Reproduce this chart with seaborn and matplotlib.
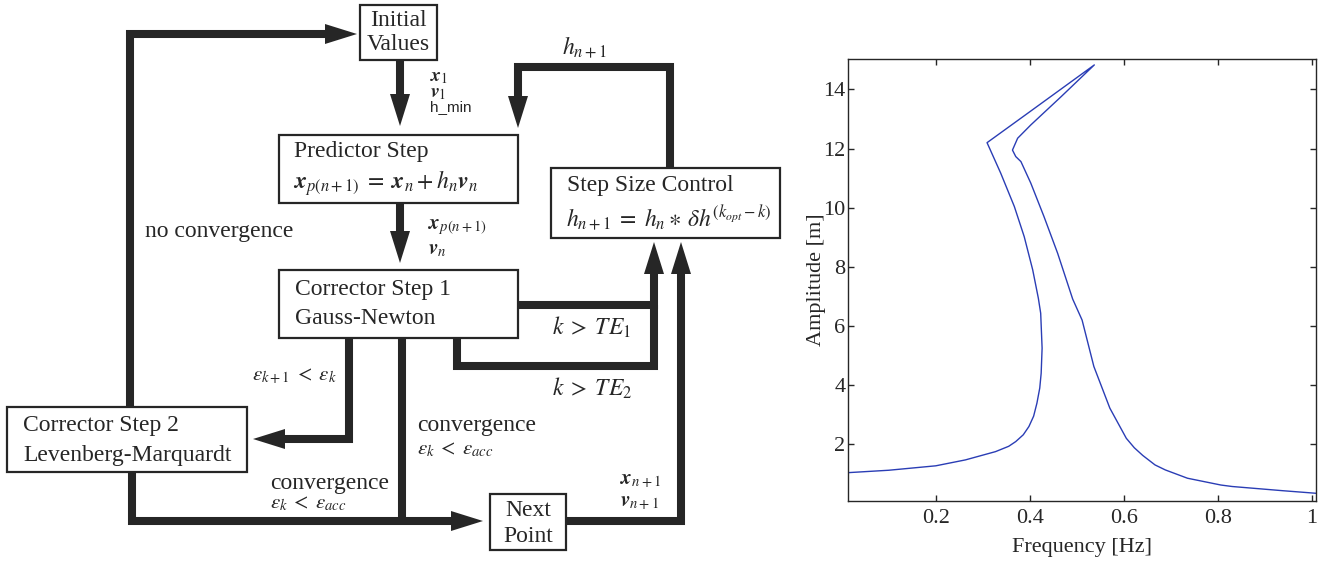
import numpy as np
import matplotlib
matplotlib.use("Agg")
import matplotlib.pyplot as plt
from matplotlib.patches import Rectangle, Polygon
import seaborn as sns

# response curve, in drawing order
# (lower-left branch up, over the tip, back down the right branch)
frequency = [0.015, 0.100, 0.200, 0.263, 0.327, 0.355, 0.370, 0.386, 0.398,
             0.408, 0.415, 0.421, 0.424, 0.426, 0.423, 0.418, 0.406, 0.388,
             0.367, 0.338, 0.309,
             0.395, 0.537,
             0.466, 0.402, 0.374, 0.363, 0.370, 0.381, 0.402, 0.430, 0.459,
             0.491, 0.511, 0.536, 0.570, 0.605, 0.622, 0.640, 0.666, 0.688,
             0.735, 0.806, 0.830, 0.936, 1.009]
amplitude = [1.04, 1.12, 1.27, 1.47, 1.75, 1.93, 2.09, 2.32, 2.60,
             2.95, 3.39, 3.90, 4.40, 5.25, 6.43, 6.94, 7.90, 9.02,
             10.04, 11.17, 12.20,
             13.19, 14.83,
             13.75, 12.80, 12.35, 11.95, 11.73, 11.56, 10.83, 9.70, 8.46,
             6.91, 6.20, 4.63, 3.22, 2.20, 1.88, 1.62, 1.30, 1.13,
             0.85, 0.62, 0.57, 0.43, 0.34]

x_ticks = [0.2, 0.4, 0.6, 0.8, 1.0]
x_tick_labels = ["0.2", "0.4", "0.6", "0.8", "1"]
y_ticks = [2, 4, 6, 8, 10, 12, 14]

sns.set_theme(style="ticks")
plt.rcParams["font.family"] = ["Liberation Serif", "DejaVu Serif"]
plt.rcParams["mathtext.fontset"] = "stix"

INK = "#262626"
LW = 5.8     # thick flow lines, ~8 px
HL, HW = 32, 20   # arrow head length / width in px


def flow(ax, pts, head=True):
    pts = [np.array(p, float) for p in pts]
    if head:
        d = pts[-1] - pts[-2]
        d /= np.hypot(*d)
        n = np.array([-d[1], d[0]])
        base = pts[-1] - d * HL
        ax.add_patch(Polygon([pts[-1], base + n * HW / 2, base - n * HW / 2],
                             closed=True, color=INK, lw=0, zorder=3))
        pts[-1] = base + d * 2
    xs = [p[0] for p in pts]
    ys = [p[1] for p in pts]
    ax.plot(xs, ys, color=INK, lw=LW, solid_joinstyle="miter",
            solid_capstyle="butt", zorder=2)


def box(ax, l, t, r, b):
    ax.add_patch(Rectangle((l, t), r - l, b - t, fill=False, ec=INK, lw=1.6, zorder=4))


fig = plt.figure(figsize=(13.33, 5.63), dpi=100)

# ---- flowchart (pixel coordinates) ----
fc = fig.add_axes([0, 0, 1, 1])
fc.set_xlim(0, 1333)
fc.set_ylim(563, 0)
fc.axis("off")

box(fc, 360, 5, 437, 60)
box(fc, 279, 135, 518, 203)
box(fc, 551, 168, 780, 238)
box(fc, 279, 270, 518, 338)
box(fc, 7, 407, 247, 472)
box(fc, 490, 494, 566, 550)

flow(fc, [(130, 408), (130, 34), (357, 34)])
flow(fc, [(400, 60), (400, 126)])
flow(fc, [(400, 203), (400, 263)])
flow(fc, [(670, 168), (670, 67), (518, 67), (518, 128)])
flow(fc, [(518, 305), (654, 305), (654, 242)])
flow(fc, [(457, 338), (457, 366), (654, 366), (654, 305)], head=False)
flow(fc, [(566, 521), (681, 521), (681, 242)])
flow(fc, [(349, 338), (349, 439), (253, 439)])
flow(fc, [(402, 338), (402, 521)], head=False)
flow(fc, [(132, 472), (132, 521), (483, 521)])

big = 17
small = 15
kw = dict(color=INK, va="center")
fc.text(398, 20, "Initial", fontsize=big, ha="center", **kw)
fc.text(398, 45, "Values", fontsize=big, ha="center", **kw)
fc.text(294, 151, "Predictor Step", fontsize=big, ha="left", **kw)
fc.text(293, 183, r"$\mathbfit{x}_{p(n+1)} \;=\; \mathbfit{x}_n + h_n\mathbfit{v}_n$",
        fontsize=big, ha="left", **kw)
fc.text(567, 186, "Step Size Control", fontsize=big, ha="left", **kw)
fc.text(566, 218, r"$h_{n+1} \;=\; h_n \ast\, \delta h^{(k_{opt}-k)}$",
        fontsize=big, ha="left", **kw)
fc.text(295, 289, "Corrector Step 1", fontsize=big, ha="left", **kw)
fc.text(295, 319, "Gauss-Newton", fontsize=big, ha="left", **kw)
fc.text(23, 425, "Corrector Step 2", fontsize=big, ha="left", **kw)
fc.text(23, 455, "Levenberg-Marquardt", fontsize=big, ha="left", **kw)
fc.text(528, 511, "Next", fontsize=big, ha="center", **kw)
fc.text(528, 536, "Point", fontsize=big, ha="center", **kw)

fc.text(430, 77, r"$\mathbfit{x}_1$", fontsize=14, ha="left", **kw)
fc.text(430, 93, r"$\mathbfit{v}_1$", fontsize=14, ha="left", **kw)
fc.text(430, 107, "h_min", fontsize=11, ha="left", family="Liberation Sans", **kw)
fc.text(428, 227, r"$\mathbfit{x}_{p(n+1)}$", fontsize=small, ha="left", **kw)
fc.text(428, 250, r"$\mathbfit{v}_n$", fontsize=small, ha="left", **kw)
fc.text(562, 47, r"$h_{n+1}$", fontsize=big, ha="left", **kw)
fc.text(145, 232, "no convergence", fontsize=big, ha="left", **kw)
fc.text(252, 376, r"$\varepsilon_{k+1} \;<\; \varepsilon_k$", fontsize=small, ha="left", **kw)
fc.text(552, 327, r"$k \;>\; TE_1$", fontsize=big, ha="left", **kw)
fc.text(552, 388, r"$k \;>\; TE_2$", fontsize=big, ha="left", **kw)
fc.text(417, 426, "convergence", fontsize=big, ha="left", **kw)
fc.text(417, 450, r"$\varepsilon_k \;<\; \varepsilon_{acc}$", fontsize=small, ha="left", **kw)
fc.text(270, 483, "convergence", fontsize=big, ha="left", **kw)
fc.text(270, 504, r"$\varepsilon_k \;<\; \varepsilon_{acc}$", fontsize=small, ha="left", **kw)
fc.text(620, 481, r"$\mathbfit{x}_{n+1}$", fontsize=small, ha="left", **kw)
fc.text(620, 503, r"$\mathbfit{v}_{n+1}$", fontsize=small, ha="left", **kw)

# ---- amplitude / frequency plot ----
ax = fig.add_axes([848.4 / 1333, (563 - 500.7) / 563,
                   (1316.4 - 848.4) / 1333, (500.7 - 59.3) / 563])
sns.lineplot(x=frequency, y=amplitude, sort=False, estimator=None,
             color="#2a3db5", lw=1.0, ax=ax)
ax.set_xlim(0.0143, 1.009)
ax.set_ylim(0.09, 15.02)
ax.set_xticks(x_ticks, x_tick_labels)
ax.set_yticks(y_ticks)
ax.tick_params(axis="both", direction="in", length=4, width=1, color=INK,
               labelsize=16, labelcolor=INK, top=True, right=True)
ax.tick_params(axis="x", pad=6)
ax.tick_params(axis="y", pad=2)
for s in ax.spines.values():
    s.set_visible(True)
    s.set_color(INK)
    s.set_linewidth(1.0)
ax.set_xlabel("Frequency [Hz]", fontsize=16, color=INK, labelpad=7)
ax.set_ylabel("Amplitude [m]", fontsize=16, color=INK, labelpad=-2)

fig.savefig("out.png", dpi=100)
